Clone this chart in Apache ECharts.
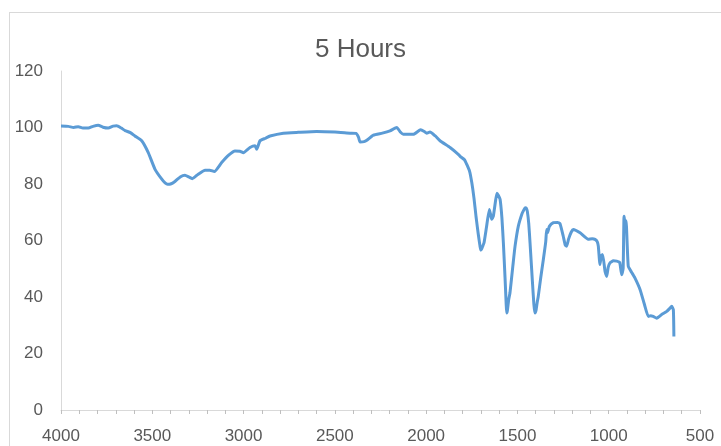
<!DOCTYPE html>
<html>
<head>
<meta charset="utf-8">
<script src="https://cdn.jsdelivr.net/npm/echarts@6/dist/echarts.min.js"></script>
<style>
  html, body { margin: 0; padding: 0; background: #fff; overflow: hidden; }
  #frame { position: absolute; left: 9px; top: 12px; width: 800px; height: 500px; border: 1px solid #d9d9d9; }
  #spectrum { position: absolute; left: 0; top: 0; width: 721px; height: 446px; }
</style>
</head>
<body>
<div id="frame"></div>
<div id="spectrum"></div>
<script>
// wavenumber (cm-1) and transmittance (%)
var wavenumbers = [
  4000, 3960, 3930, 3905, 3880, 3850, 3825, 3796, 3770, 3741, 3715, 3695, 3670, 3649,
  3620, 3595, 3558, 3522, 3485, 3448, 3430, 3416, 3400, 3376, 3345, 3321, 3300, 3281,
  3250, 3211, 3185, 3160, 3120, 3080, 3047, 3020, 3001, 2965, 2937, 2928, 2910, 2880,
  2855, 2782, 2700, 2600, 2500, 2417, 2384, 2370, 2362, 2340, 2325, 2289, 2240, 2198,
  2161, 2140, 2125, 2070, 2030, 2010, 1997, 1979, 1950, 1924, 1869, 1824, 1814, 1790,
  1778, 1762, 1750, 1738, 1727, 1715, 1705, 1700, 1696, 1690, 1683, 1670, 1654, 1648,
  1641, 1632, 1620, 1612, 1605, 1595, 1585, 1577, 1568, 1562, 1559, 1555, 1548, 1541,
  1525, 1513, 1495, 1475, 1465, 1458, 1452, 1446, 1438, 1431, 1418, 1410, 1404, 1398,
  1392, 1386, 1372, 1358, 1345, 1340, 1335, 1325, 1303, 1280, 1267, 1249, 1238, 1230,
  1220, 1205, 1194, 1157, 1112, 1090, 1075, 1063, 1057, 1048, 1041, 1033, 1020, 1011,
  1003, 993, 975, 956, 940, 929, 921, 916, 910, 905, 893, 875, 856, 828, 805,
  783, 770, 756, 737, 710, 682, 665, 655, 646, 643
];
var transmittance = [
  100.5, 100.4, 100.0, 100.3, 99.8, 99.8, 100.4, 100.8, 100.1, 99.8, 100.5, 100.6, 99.8, 98.9,
  98.2, 97.0, 95.3, 91.1, 85.2, 81.7, 80.4, 79.9, 80.0, 80.9, 82.6, 83.1, 82.5, 81.9,
  83.4, 84.9, 84.9, 84.4, 87.6, 90.3, 91.7, 91.6, 91.1, 92.9, 93.5, 92.3, 95.3, 96.2,
  97.0, 98.0, 98.3, 98.6, 98.4, 98.0, 97.9, 96.5, 94.9, 95.0, 95.5, 97.3, 98.0, 98.8,
  100.0, 98.3, 97.6, 97.6, 99.2, 98.6, 98.0, 98.4, 97.0, 95.3, 92.9, 90.5, 89.8, 88.6,
  87.0, 84.5, 80.5, 75.0, 68.6, 62.5, 58.0, 56.6, 57.0, 58.0, 59.2, 64.5, 71.0, 69.5,
  67.5, 68.6, 74.0, 76.7, 76.0, 74.6, 68.0, 59.2, 47.0, 38.0, 34.3, 35.2, 39.0, 41.4,
  51.0, 58.0, 65.1, 69.5, 70.8, 71.6, 71.5, 70.4, 66.0, 59.2, 45.5, 37.5, 34.3, 35.3,
  38.0, 40.2, 47.0, 53.3, 59.5, 63.9, 62.8, 65.0, 66.3, 66.4, 66.0, 61.5, 58.4, 58.0,
  60.5, 63.0, 63.9, 62.7, 60.4, 60.6, 60.4, 59.6, 58.0, 51.5, 54.5, 55.0, 49.0, 47.3,
  50.5, 52.1, 52.8, 52.7, 52.3, 47.9, 50.0, 68.6, 65.5, 67.0, 50.9, 48.8, 46.7, 42.6, 37.5,
  33.1, 33.4, 33.1, 32.5, 33.8, 34.9, 36.0, 36.7, 35.5, 26.0
];
var xTicks = { min: 500, max: 4000, step: 500 };
var yTicks = { min: 0, max: 120, step: 20 };

var seriesData = wavenumbers.map(function (w, i) { return [w, transmittance[i]]; });

var chart = echarts.init(document.getElementById("spectrum"));
chart.setOption({
  animation: false,
  title: {
    text: "5 Hours",
    left: "center",
    top: 32,
    textStyle: { color: "#595959", fontSize: 26, fontWeight: "normal", fontFamily: "Liberation Sans" }
  },
  grid: { left: 61, right: 21, top: 71, bottom: 36 },
  xAxis: {
    type: "value",
    inverse: true,
    min: xTicks.min,
    max: xTicks.max,
    interval: xTicks.step,
    axisLine: { show: true, lineStyle: { color: "#d9d9d9", width: 1 } },
    axisTick: { show: true, length: 4, lineStyle: { color: "#bfbfbf" } },
    minorTick: { show: true, splitNumber: 5, length: 4, lineStyle: { color: "#bfbfbf" } },
    splitLine: { show: false },
    axisLabel: {
      color: "#595959", fontSize: 17, margin: 18, fontFamily: "Liberation Sans",
      formatter: function (v) { return String(v); }
    }
  },
  yAxis: {
    type: "value",
    min: yTicks.min,
    max: yTicks.max,
    interval: yTicks.step,
    axisLine: { show: true, lineStyle: { color: "#d9d9d9", width: 1 } },
    axisTick: { show: false },
    splitLine: { show: false },
    axisLabel: { color: "#595959", fontSize: 17, margin: 18, fontFamily: "Liberation Sans" }
  },
  series: [{
    type: "line",
    data: seriesData,
    showSymbol: false,
    smooth: 0.15,
    lineStyle: { color: "#5b9bd5", width: 3 },
    itemStyle: { color: "#5b9bd5" }
  }]
});
</script>
</body>
</html>
